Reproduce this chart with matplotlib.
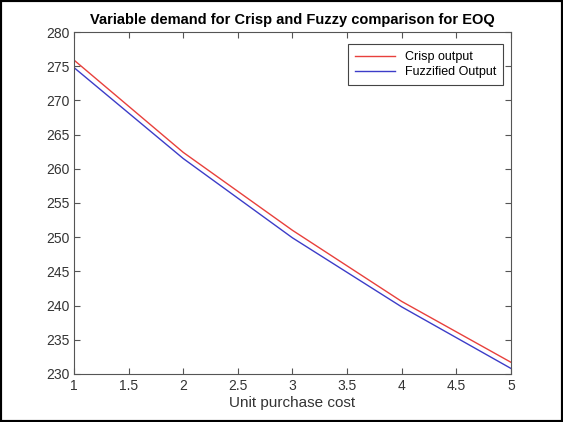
import matplotlib
matplotlib.use('Agg')
import matplotlib.pyplot as plt
from matplotlib.patches import Rectangle

# データ
unit_cost = [1, 2, 3, 4, 5]
crisp = [275.9, 262.4, 251.0, 240.6, 231.7]
fuzzy = [274.8, 261.5, 249.9, 239.8, 230.8]
xticks = [1, 1.5, 2, 2.5, 3, 3.5, 4, 4.5, 5]
yticks = list(range(230, 281, 5))

plt.rcParams['font.family'] = ['Liberation Sans', 'DejaVu Sans']

fig = plt.figure(figsize=(5.63, 4.22), dpi=100)
ax = fig.add_axes([0.1315, 0.114, 0.776, 0.81])

ax.plot(unit_cost, crisp, color='#e8403c', lw=1.0, label='Crisp output')
ax.plot(unit_cost, fuzzy, color='#3c3cc8', lw=1.0, label='Fuzzified Output')

ax.set_xlim(1, 5)
ax.set_ylim(230, 280)
ax.set_xticks(xticks)
ax.set_xticklabels([f'{t:g}' for t in xticks])
ax.set_yticks(yticks)

axis_gray = '#555555'
for s in ax.spines.values():
    s.set_color(axis_gray)
    s.set_linewidth(0.8)
ax.tick_params(direction='in', length=4, color=axis_gray, labelcolor='#333333',
               labelsize=10, top=True, right=True, width=0.8)

ax.set_xlabel('Unit purchase cost', fontsize=11, color='#333333', labelpad=2)
ax.set_title('Variable demand for Crisp and Fuzzy comparison for EOQ',
             fontsize=10.5, fontweight='bold', pad=6)

leg = ax.legend(loc='upper right', bbox_to_anchor=(0.982, 0.965), fontsize=9,
                fancybox=False, framealpha=1, edgecolor='#444444',
                handlelength=3.2, borderaxespad=0, borderpad=0.55,
                labelspacing=0.25)
leg.get_frame().set_linewidth(0.8)

# 外枠
fig.patches.append(Rectangle((0, 0), 1, 1, transform=fig.transFigure,
                             fill=False, edgecolor='black', lw=3))

fig.savefig('out.png', dpi=100)
